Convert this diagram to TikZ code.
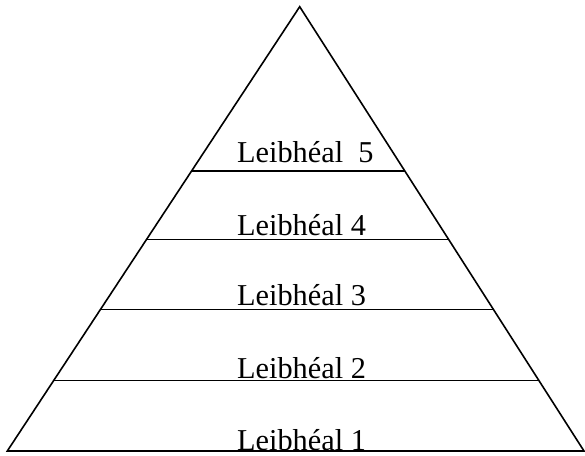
\documentclass[tikz,border=0pt]{standalone}
\usepackage{fontspec}
\setmainfont{Liberation Serif}
\usetikzlibrary{calc}
\begin{document}
\begin{tikzpicture}[x=1pt,y=-1pt,
  edge/.style={line width=1.6pt,black},
  lvl/.style={anchor=base west,inner sep=0pt,font=\fontsize{30.3}{31}\selectfont}]
\useasboundingbox (0,0) rectangle (585,455);
\coordinate (top) at (299.7,6.7);
\coordinate (bl) at (7.3,451);
\coordinate (br) at (584,451);
\draw[edge,line join=miter] (bl) -- (top) -- (br) -- cycle;
\foreach \t/\n in {0.3698/5,0.524/4,0.6815/3,0.8413/2}{
  \coordinate (l\n) at ($(top)!\t!(bl)$);
  \coordinate (r\n) at ($(top)!\t!(br)$);
  \draw[edge] (l\n) -- (r\n);
}
\node[lvl] (t5) at (237,162) {Leibhéal~~5};
\node[lvl] (t4) at (237,235.7) {Leibhéal 4};
\node[lvl] (t3) at (237,305.7) {Leibhéal 3};
\node[lvl] (t2) at (237,378) {Leibhéal 2};
\node[lvl] (t1) at (237,450) {Leibhéal 1};
\end{tikzpicture}
\end{document}
